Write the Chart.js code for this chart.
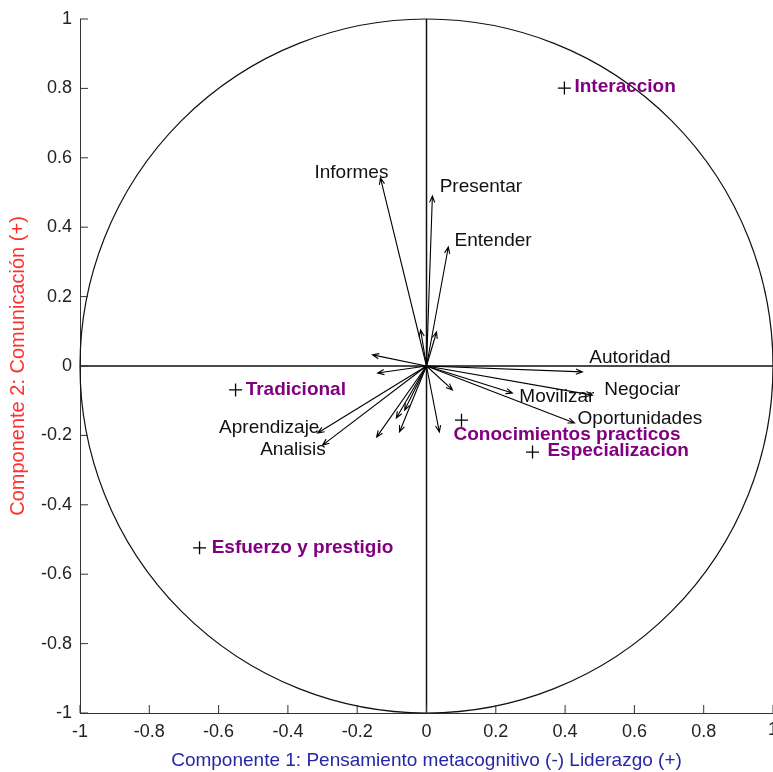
<!DOCTYPE html>
<html>
<head>
<meta charset="utf-8">
<script src="https://cdn.jsdelivr.net/npm/chart.js@4"></script>
<style>
  html, body { margin: 0; padding: 0; background: #fff; }
</style>
</head>
<body>
<canvas id="chart" width="773" height="772"></canvas>
<script>
// Variable vectors (Componente 1, Componente 2)
const varNames = ['Informes', 'Presentar', 'Entender', 'Autoridad', 'Negociar', 'Movilizar', 'Oportunidades', 'Aprendizaje', 'Analisis'];
const varX = [-0.133, 0.017, 0.063, 0.450, 0.479, 0.248, 0.427, -0.314, -0.300];
const varY = [0.542, 0.490, 0.343, -0.017, -0.084, -0.078, -0.164, -0.193, -0.228];
// where each name sits, in axis units, and which side it hangs from
const varLabelX = [-0.110, 0.038, 0.081, 0.470, 0.513, 0.268, 0.436, -0.309, -0.291];
const varLabelY = [0.556, 0.516, 0.360, 0.023, -0.069, -0.089, -0.153, -0.179, -0.242];
const varLabelSide = ['right', 'left', 'left', 'left', 'left', 'left', 'left', 'right', 'right'];

// short vectors without a name
const otherX = [-0.156, -0.141, -0.144, -0.078, 0.037, 0.075, -0.017, 0.029, -0.087, -0.063];
const otherY = [0.032, -0.020, -0.205, -0.190, -0.190, -0.069, 0.104, 0.098, -0.150, -0.127];

// Supplementary points
const suppNames = ['Interaccion', 'Tradicional', 'Conocimientos practicos', 'Especializacion', 'Esfuerzo y prestigio'];
const suppX = [0.398, -0.551, 0.101, 0.306, -0.655];
const suppY = [0.801, -0.069, -0.156, -0.248, -0.524];
const suppLabelX = [0.427, -0.522, 0.078, 0.349, -0.620];
const suppLabelY = [0.804, -0.069, -0.199, -0.245, -0.524];

const axisTicks = [-1, -0.8, -0.6, -0.4, -0.2, 0, 0.2, 0.4, 0.6, 0.8, 1];
const xTitle = 'Componente 1: Pensamiento metacognitivo (-) Liderazgo (+)';
const yTitle = 'Componente 2: Comunicación (+)';

const FONT = 'Liberation Sans, Arial, sans-serif';
const fmt = v => String(Number(v.toFixed(1)));

function drawArrow(ctx, x0, y0, x1, y1) {
    ctx.beginPath();
    ctx.moveTo(x0, y0);
    ctx.lineTo(x1, y1);
    const a = Math.atan2(y1 - y0, x1 - x0);
    const h = 7, spread = 0.38;
    ctx.moveTo(x1 - h * Math.cos(a - spread), y1 - h * Math.sin(a - spread));
    ctx.lineTo(x1, y1);
    ctx.lineTo(x1 - h * Math.cos(a + spread), y1 - h * Math.sin(a + spread));
    ctx.stroke();
}

const biplot = {
    id: 'biplot',
    beforeDatasetsDraw(chart) {
        const {ctx, chartArea, scales: {x, y}} = chart;
        const ox = x.getPixelForValue(0), oy = y.getPixelForValue(0);
        ctx.save();
        // unit circle
        ctx.strokeStyle = '#111';
        ctx.lineWidth = 1.2;
        ctx.beginPath();
        ctx.ellipse(ox, oy, x.getPixelForValue(1) - ox, oy - y.getPixelForValue(1), 0, 0, Math.PI * 2);
        ctx.stroke();
        // axes through origin
        ctx.lineWidth = 1.5;
        ctx.beginPath();
        ctx.moveTo(x.getPixelForValue(-1), oy);
        ctx.lineTo(x.getPixelForValue(1), oy);
        ctx.moveTo(ox, y.getPixelForValue(1));
        ctx.lineTo(ox, y.getPixelForValue(-1));
        ctx.stroke();
        // inward tick marks
        ctx.strokeStyle = '#333';
        ctx.lineWidth = 1;
        ctx.beginPath();
        axisTicks.forEach(v => {
            const px = x.getPixelForValue(v), py = y.getPixelForValue(v);
            ctx.moveTo(px, chartArea.bottom);
            ctx.lineTo(px, chartArea.bottom - 8);
            ctx.moveTo(chartArea.left, py);
            ctx.lineTo(chartArea.left + 8, py);
        });
        ctx.stroke();
        // last x tick label sits half outside the canvas, so it is drawn here
        ctx.fillStyle = '#222';
        ctx.font = '18px ' + FONT;
        ctx.textAlign = 'center';
        ctx.textBaseline = 'top';
        const last = axisTicks[axisTicks.length - 1];
        ctx.fillText(fmt(last), x.getPixelForValue(last), chartArea.bottom + 8);
        // vectors
        ctx.strokeStyle = '#000';
        ctx.lineWidth = 1.1;
        otherX.forEach((v, i) => drawArrow(ctx, ox, oy, x.getPixelForValue(v), y.getPixelForValue(otherY[i])));
        varX.forEach((v, i) => drawArrow(ctx, ox, oy, x.getPixelForValue(v), y.getPixelForValue(varY[i])));
        ctx.restore();
    },
    afterDatasetsDraw(chart) {
        const {ctx, scales: {x, y}} = chart;
        ctx.save();
        ctx.textBaseline = 'middle';
        ctx.font = '19px ' + FONT;
        ctx.fillStyle = '#111';
        varNames.forEach((name, i) => {
            ctx.textAlign = varLabelSide[i];
            ctx.fillText(name, x.getPixelForValue(varLabelX[i]), y.getPixelForValue(varLabelY[i]));
        });
        ctx.font = 'bold 19px ' + FONT;
        ctx.fillStyle = '#800080';
        ctx.textAlign = 'left';
        suppNames.forEach((name, i) => {
            ctx.fillText(name, x.getPixelForValue(suppLabelX[i]), y.getPixelForValue(suppLabelY[i]));
        });
        ctx.restore();
    }
};

function axisOptions(title, color, isX) {
    return {
        type: 'linear',
        min: -1,
        max: 1,
        afterBuildTicks: s => { s.ticks = axisTicks.map(v => ({value: v})); },
        afterFit: s => {
            s.paddingLeft = 0; s.paddingRight = 0; s.paddingTop = 0; s.paddingBottom = 0;
            if (isX) s.height = 59; else s.width = 80;
        },
        grid: { display: false, drawTicks: false },
        border: { display: true, color: '#333', width: 1 },
        ticks: {
            color: '#222',
            padding: 8,
            maxRotation: 0,
            autoSkip: false,
            font: { family: FONT, size: 18 },
            callback: v => (isX && v === 1) ? '' : fmt(v)
        },
        title: {
            display: true,
            text: title,
            color: color,
            font: { family: FONT, size: isX ? 19 : 20 },
            padding: isX ? { top: 0, bottom: 0 } : { top: 6, bottom: 0 }
        }
    };
}

new Chart(document.getElementById('chart'), {
    type: 'scatter',
    data: {
        datasets: [{
            data: suppX.map((v, i) => ({x: v, y: suppY[i]})),
            pointStyle: 'cross',
            radius: 6.5,
            borderColor: '#000',
            borderWidth: 1.3,
            clip: false
        }]
    },
    options: {
        responsive: false,
        animation: false,
        layout: { autoPadding: false, padding: { top: 19, right: 0, left: 0, bottom: 0 } },
        plugins: { legend: { display: false }, tooltip: { enabled: false } },
        scales: {
            x: axisOptions(xTitle, '#2626a6', true),
            y: axisOptions(yTitle, '#ff3030', false)
        }
    },
    plugins: [biplot]
});
</script>
</body>
</html>
